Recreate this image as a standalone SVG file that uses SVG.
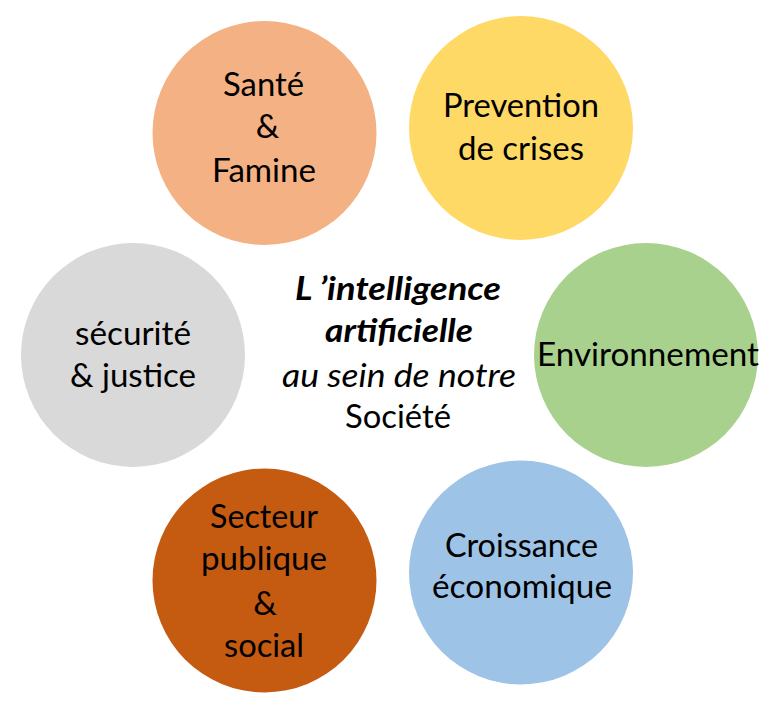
<svg xmlns="http://www.w3.org/2000/svg" width="777" height="717" viewBox="0 0 777 717">
<style>
text{font-family:Lato,"Open Sans","Liberation Sans",sans-serif;font-size:33px;fill:#000;text-anchor:middle}
.i{font-style:italic}
.b{font-weight:bold}
</style>
<rect width="777" height="717" fill="#fff"/>
<g id="sante">
<circle cx="264.5" cy="133" r="112" fill="#F4B183"/>
<text x="263.5" y="96" textLength="81" lengthAdjust="spacingAndGlyphs">Santé</text>
<text x="267.5" y="138">&amp;</text>
<text x="264" y="182" textLength="104" lengthAdjust="spacingAndGlyphs">Famine</text>
</g>
<g id="prevention">
<circle cx="521" cy="128" r="112" fill="#FFD966"/>
<text x="521" y="117" textLength="156" lengthAdjust="spacingAndGlyphs">Prevention</text>
<text x="521" y="160" textLength="126" lengthAdjust="spacingAndGlyphs">de crises</text>
</g>
<g id="environnement">
<circle cx="646" cy="355" r="112" fill="#A9D18E"/>
<text x="648" y="366" textLength="222" lengthAdjust="spacingAndGlyphs">Environnement</text>
</g>
<g id="croissance">
<circle cx="521" cy="572.5" r="112" fill="#9DC3E6"/>
<text x="521.5" y="557" textLength="153" lengthAdjust="spacingAndGlyphs">Croissance</text>
<text x="522" y="598" textLength="180" lengthAdjust="spacingAndGlyphs">économique</text>
</g>
<g id="secteur">
<circle cx="264.5" cy="580.5" r="112" fill="#C55A11"/>
<text x="264" y="528" textLength="108" lengthAdjust="spacingAndGlyphs">Secteur</text>
<text x="264" y="570" textLength="126" lengthAdjust="spacingAndGlyphs">publique</text>
<text x="265" y="615">&amp;</text>
<text x="264" y="657" textLength="80" lengthAdjust="spacingAndGlyphs">social</text>
</g>
<g id="securite">
<circle cx="133" cy="355" r="112" fill="#D9D9D9"/>
<text x="133" y="345" textLength="116" lengthAdjust="spacingAndGlyphs">sécurité</text>
<text x="133" y="387" textLength="126" lengthAdjust="spacingAndGlyphs">&amp; justice</text>
</g>
<g id="centre">
<text class="i b" x="398" y="300" textLength="206" lengthAdjust="spacingAndGlyphs">L ’intelligence</text>
<text class="i b" x="399" y="342" textLength="148" lengthAdjust="spacingAndGlyphs">artificielle</text>
<text class="i" x="399" y="387" textLength="234" lengthAdjust="spacingAndGlyphs">au sein de notre</text>
<text x="398" y="428" textLength="106" lengthAdjust="spacingAndGlyphs">Société</text>
</g>
<g id="connectors"/>
</svg>
